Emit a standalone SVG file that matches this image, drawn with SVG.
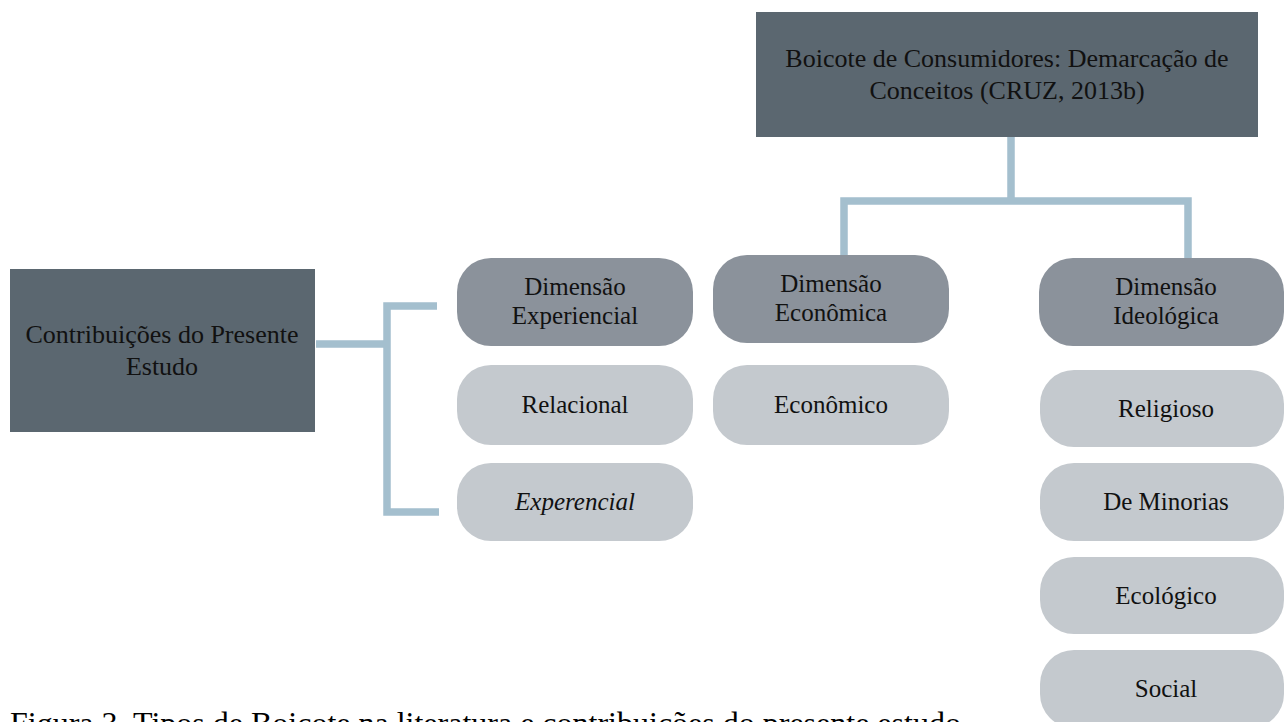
<svg xmlns="http://www.w3.org/2000/svg" width="1284" height="722" viewBox="0 0 1284 722">
  <style>
    text { font-family: "Liberation Serif", "Times New Roman", serif; fill: #111111; text-anchor: middle; }
    .rect { fill: #5B6770; }
    .dark { fill: #8B929B; }
    .light { fill: #C4C9CE; }
    .t26 { font-size: 26px; }
    .t25 { font-size: 25px; }
    .conn { fill: none; stroke: #A4BFCE; stroke-width: 7.5; stroke-linecap: butt; stroke-linejoin: miter; }
    .cap { font-size: 32px; text-anchor: start; fill: #000000; }
  </style>
  <rect width="1284" height="722" fill="#FFFFFF"/>

  <g id="connectors">
    <path class="conn" d="M1011 137 V201 M844 258 V201 H1188 V258"/>
    <path class="conn" d="M316 344 H387 M437 306 H387 V512 H439"/>
  </g>

  <g id="node-boicote">
    <rect class="rect" x="756" y="12" width="502" height="125"/>
    <text class="t26" x="1007" y="67">Boicote de Consumidores: Demarcação de</text>
    <text class="t26" x="1007" y="99">Conceitos (CRUZ, 2013b)</text>
  </g>

  <g id="node-contribuicoes">
    <rect class="rect" x="10" y="269" width="305" height="163"/>
    <text class="t26" x="162" y="343">Contribuições do Presente</text>
    <text class="t26" x="162" y="375">Estudo</text>
  </g>

  <g id="node-dim-experiencial">
    <rect class="dark" x="457" y="258" width="236" height="88" rx="34" ry="34"/>
    <text class="t25" x="575" y="295">Dimensão</text>
    <text class="t25" x="575" y="324">Experiencial</text>
  </g>

  <g id="node-dim-economica">
    <rect class="dark" x="713" y="255" width="236" height="88" rx="34" ry="34"/>
    <text class="t25" x="831" y="292">Dimensão</text>
    <text class="t25" x="831" y="321">Econômica</text>
  </g>

  <g id="node-dim-ideologica">
    <rect class="dark" x="1039" y="258" width="245" height="88" rx="34" ry="34"/>
    <text class="t25" x="1166" y="295">Dimensão</text>
    <text class="t25" x="1166" y="324">Ideológica</text>
  </g>

  <g id="node-relacional">
    <rect class="light" x="457" y="365" width="236" height="80" rx="34" ry="34"/>
    <text class="t25" x="575" y="413">Relacional</text>
  </g>

  <g id="node-experencial">
    <rect class="light" x="457" y="463" width="236" height="78" rx="34" ry="34"/>
    <text class="t25" x="575" y="510" font-style="italic">Experencial</text>
  </g>

  <g id="node-economico">
    <rect class="light" x="713" y="365" width="236" height="80" rx="34" ry="34"/>
    <text class="t25" x="831" y="413">Econômico</text>
  </g>

  <g id="node-religioso">
    <rect class="light" x="1040" y="370" width="244" height="77" rx="34" ry="34"/>
    <text class="t25" x="1166" y="417">Religioso</text>
  </g>

  <g id="node-minorias">
    <rect class="light" x="1040" y="463" width="244" height="78" rx="34" ry="34"/>
    <text class="t25" x="1166" y="510">De Minorias</text>
  </g>

  <g id="node-ecologico">
    <rect class="light" x="1040" y="557" width="244" height="77" rx="34" ry="34"/>
    <text class="t25" x="1166" y="604">Ecológico</text>
  </g>

  <g id="node-social">
    <rect class="light" x="1040" y="650" width="244" height="78" rx="34" ry="34"/>
    <text class="t25" x="1166" y="697">Social</text>
  </g>

  <text class="cap" x="10" y="734">Figura 3. Tipos de Boicote na literatura e contribuições do presente estudo</text>
</svg>
